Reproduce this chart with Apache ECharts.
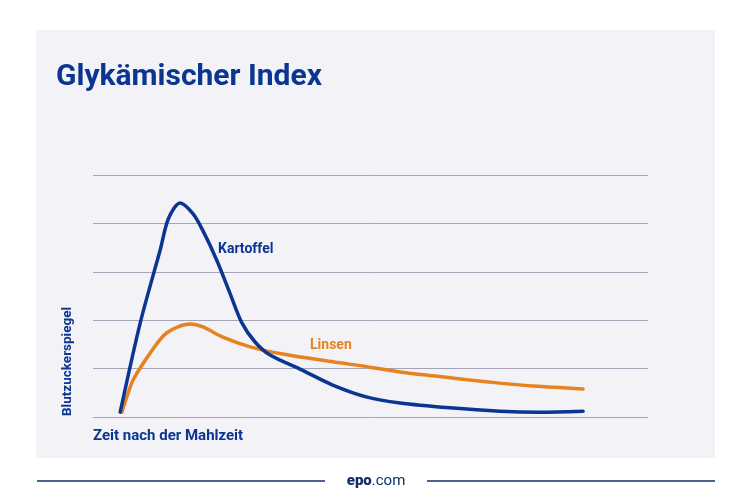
<!DOCTYPE html>
<html>
<head>
<meta charset="utf-8">
<script src="https://cdn.jsdelivr.net/npm/echarts@6/dist/echarts.min.js"></script>
<style>
  html, body { margin: 0; padding: 0; background: #fff; }
  #chart { width: 750px; height: 500px; }
</style>
</head>
<body>
<div id="chart"></div>
<script>
// time after meal (relative units), blood sugar level (relative units)
const kartoffelTime = [4.9, 8.5, 12.1, 13.6, 15.7, 18.0, 19.8, 22.3, 24.7, 26.8, 29.2, 31.9, 37.3, 43.2, 49.4, 55.3, 64.3, 73.3, 80.5, 88.3]
const kartoffelValues = [0.1, 1.94, 3.45, 4.1, 4.42, 4.2, 3.85, 3.24, 2.55, 1.95, 1.55, 1.28, 0.99, 0.66, 0.41, 0.29, 0.19, 0.12, 0.10, 0.12]
const linsenTime = [5.2, 6.2, 7.2, 10.3, 13.3, 17.5, 19.8, 23.4, 28.3, 34.2, 43.2, 49.4, 55.3, 61.3, 67.4, 73.3, 79.3, 88.3]
const linsenValues = [0.1, 0.45, 0.76, 1.32, 1.74, 1.92, 1.86, 1.65, 1.45, 1.3, 1.14, 1.04, 0.93, 0.85, 0.77, 0.70, 0.64, 0.58]

const blue = '#0a3591'
const orange = '#e8821e'
const font = 'Roboto, "Noto Sans", sans-serif'

const zip = (xs, ys) => xs.map((x, i) => [x, ys[i]])

const chart = echarts.init(document.getElementById('chart'))

const option = {
  backgroundColor: '#ffffff',
  animation: false,
  grid: { left: 93, right: 102, top: 175, bottom: 83 },
  xAxis: {
    type: 'value',
    min: 0,
    max: 100,
    show: false
  },
  yAxis: {
    type: 'value',
    min: 0,
    max: 5,
    interval: 1,
    axisLine: { show: false },
    axisTick: { show: false },
    axisLabel: { show: false },
    splitLine: { show: true, lineStyle: { color: '#a4a4b8', width: 1 } }
  },
  graphic: [
    {
      type: 'rect',
      z: -10,
      silent: true,
      shape: { x: 36, y: 30, width: 679, height: 428 },
      style: { fill: '#f2f2f7' }
    },
    {
      type: 'text',
      left: 56,
      top: 62,
      style: { text: 'Glykämischer Index', font: 'bold 30px ' + font, fill: blue }
    },
    {
      type: 'text',
      x: 68,
      y: 416,
      rotation: Math.PI / 2,
      style: {
        text: 'Blutzuckerspiegel',
        font: 'bold 13.5px ' + font,
        fill: blue,
        textAlign: 'left',
        textVerticalAlign: 'middle'
      }
    },
    {
      type: 'text',
      left: 93,
      top: 429,
      style: { text: 'Zeit nach der Mahlzeit', font: 'bold 15px ' + font, fill: blue }
    },
    {
      type: 'text',
      left: 218,
      top: 242,
      style: { text: 'Kartoffel', font: 'bold 14px ' + font, fill: blue }
    },
    {
      type: 'text',
      left: 310,
      top: 338,
      style: { text: 'Linsen', font: 'bold 14px ' + font, fill: orange }
    },
    {
      type: 'line',
      shape: { x1: 37, y1: 481, x2: 325, y2: 481 },
      style: { stroke: '#0e2f6a', lineWidth: 1.5 }
    },
    {
      type: 'line',
      shape: { x1: 427, y1: 481, x2: 715, y2: 481 },
      style: { stroke: '#0e2f6a', lineWidth: 1.5 }
    },
    {
      type: 'text',
      x: 376,
      y: 481,
      style: {
        text: '{a|epo}{b|.com}',
        textAlign: 'center',
        textVerticalAlign: 'middle',
        rich: {
          a: { font: '900 15px ' + font, fill: '#0e2f6a' },
          b: { font: '15px ' + font, fill: '#0e2f6a' }
        }
      }
    }
  ],
  series: [
    {
      name: 'Linsen',
      type: 'line',
      showSymbol: false,
      smooth: 0.3,
      lineStyle: { width: 3.5, color: orange, cap: 'round' },
      data: zip(linsenTime, linsenValues)
    },
    {
      name: 'Kartoffel',
      type: 'line',
      showSymbol: false,
      smooth: 0.3,
      lineStyle: { width: 3.5, color: blue, cap: 'round' },
      data: zip(kartoffelTime, kartoffelValues)
    }
  ]
}

chart.setOption(option)
</script>
</body>
</html>
